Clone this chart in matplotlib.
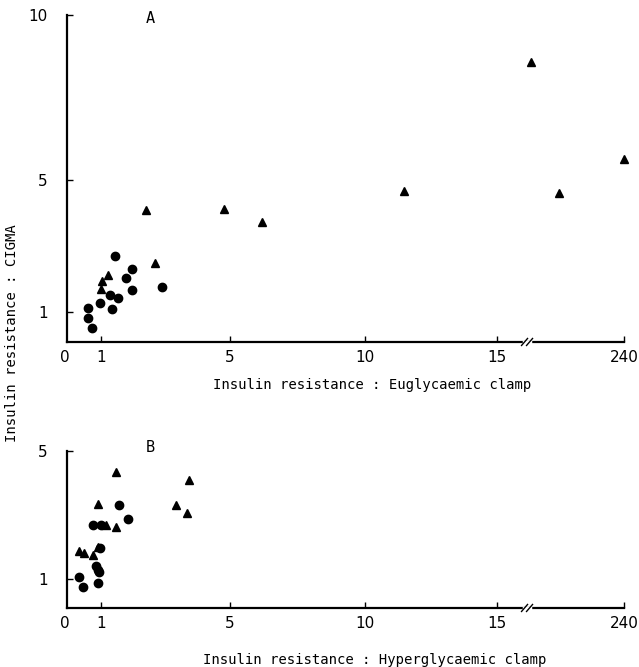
import numpy as np
import matplotlib
matplotlib.use("Agg")
import matplotlib.pyplot as plt
from matplotlib.transforms import offset_copy

# panel A: euglycaemic clamp vs CIGMA
a_circ_x = [1.43, 1.96, 1.78, 1.96, 2.89, 1.28, 1.53, 0.97, 0.62, 1.34, 0.62, 0.74]
a_circ_y = [2.70, 2.30, 2.03, 1.67, 1.76, 1.52, 1.42, 1.27, 1.12, 1.09, 0.82, 0.52]
a_tri_x = [2.67, 1.22, 1.03, 1.00, 2.40, 4.81, 6.19, 11.48, 25, 90, 240]
a_tri_y = [2.48, 2.12, 1.94, 1.70, 4.09, 4.12, 3.73, 4.67, 8.58, 4.60, 5.64]

# panel B: hyperglycaemic clamp vs CIGMA
b_circ_x = [1.56, 1.84, 0.76, 1.00, 0.97, 0.85, 0.91, 0.94, 0.35, 0.91, 0.47]
b_circ_y = [3.30, 2.88, 2.70, 2.70, 1.97, 1.42, 1.30, 1.21, 1.06, 0.88, 0.76]
b_tri_x = [1.47, 3.73, 0.91, 3.33, 3.67, 1.16, 1.47, 0.35, 0.50, 0.91, 0.76]
b_tri_y = [4.36, 4.09, 3.36, 3.33, 3.06, 2.70, 2.64, 1.88, 1.82, 2.00, 1.76]

x_ticks = [1, 5, 10, 15, 240]
x_tick_labels = ["1", "5", "10", "15", "240"]

# hand-drawn x axis: uneven spacing, broken after 15 and jumping to 240
knot_val = [0, 1, 5, 10, 15, 16, 240]
knot_pos = [0, 34, 163, 298, 430, 460, 557]
BREAK_AT = 16


def fwd(v):
    return np.interp(v, knot_val, knot_pos)


def inv(p):
    return np.interp(p, knot_pos, knot_val)


mono = ["DejaVu Sans Mono"]
narrow = ["Liberation Sans Narrow", "DejaVu Sans"]

fig = plt.figure(figsize=(6.39, 6.67), dpi=100)
ax_a = fig.add_axes([0.1049, 0.4873, 0.8717, 0.4902])
ax_b = fig.add_axes([0.1049, 0.0885, 0.8717, 0.2353])


def style(ax, ymax, yticks, xlabel, label_xy, letter, letter_y):
    ax.set_xscale("function", functions=(fwd, inv))
    ax.set_xlim(0, 240)
    ax.set_ylim(0.1, ymax)
    for s in ("top", "right"):
        ax.spines[s].set_visible(False)
    for s in ("left", "bottom"):
        ax.spines[s].set_linewidth(1.6)
    ax.set_xticks(x_ticks)
    ax.set_xticklabels(x_tick_labels, family=narrow, fontsize=11)
    ax.xaxis.set_minor_locator(plt.NullLocator())
    ax.set_yticks(yticks)
    ax.set_yticklabels([str(t) for t in yticks], family=narrow, fontsize=11)
    ax.tick_params(axis="x", direction="in", length=4, width=1.0, pad=6)
    ax.tick_params(axis="y", direction="in", length=4, width=1.0, pad=14)
    # origin label, no tick
    ax.text(-0.004, 0, "0", transform=offset_copy(ax.transAxes, fig, x=0, y=-8, units="dots"),
            ha="center", va="top", family=narrow, fontsize=11)
    ax.set_xlabel(xlabel, family=mono, fontsize=10)
    ax.xaxis.set_label_coords(*label_xy)
    ax.text(0.149, letter_y, letter, transform=ax.transAxes, ha="center",
            va="center", family=mono, fontsize=11)
    # axis break: two short slanted strokes over a small gap in the line
    bx = fwd(BREAK_AT) / knot_pos[-1]
    px = 1.0 / ax.bbox.width
    py = 1.0 / ax.bbox.height
    ax.plot([bx - 3 * px, bx + 3 * px], [0, 0], transform=ax.transAxes,
            color="white", lw=2.5, clip_on=False, zorder=5)
    for dx in (-2.5, 2.5):
        ax.plot([bx + (dx - 3) * px, bx + (dx + 3) * px], [-3.5 * py, 3.5 * py],
                transform=ax.transAxes, color="black", lw=1.0, clip_on=False,
                zorder=6)


ms = 6
ax_a.plot(a_circ_x, a_circ_y, "o", color="black", ms=ms, clip_on=False)
ax_a.plot(a_tri_x, a_tri_y, "^", color="black", ms=ms, clip_on=False)
ax_b.plot(b_circ_x, b_circ_y, "o", color="black", ms=ms, clip_on=False)
ax_b.plot(b_tri_x, b_tri_y, "^", color="black", ms=ms, clip_on=False)

style(ax_a, 10, [1, 5, 10], "Insulin resistance : Euglycaemic clamp",
      (0.548, -0.110), "A", 0.99)
style(ax_b, 5, [1, 5], "Insulin resistance : Hyperglycaemic clamp",
      (0.552, -0.287), "B", 1.02)

fig.text(0.019, 0.5, "Insulin resistance : CIGMA", rotation=90, ha="center",
         va="center", family=mono, fontsize=10)

fig.savefig("out.png", dpi=100)
